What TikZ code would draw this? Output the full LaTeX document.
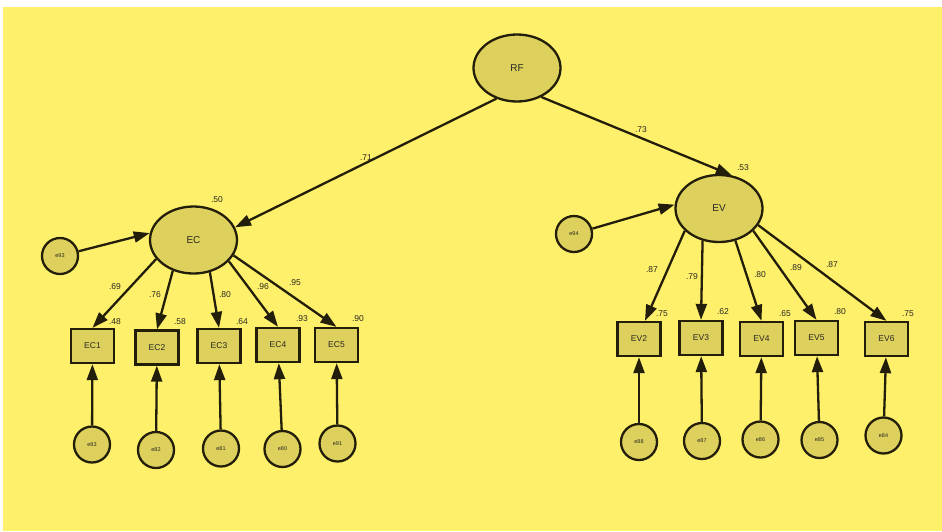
\documentclass[tikz,border=0pt]{standalone}
\usepackage{fontspec}
\setmainfont{Liberation Sans}
\usetikzlibrary{shapes.geometric,arrows.meta}
\definecolor{bgyellow}{RGB}{254,240,106}
\definecolor{nodefill}{RGB}{222,208,92}
\definecolor{edge}{RGB}{34,30,10}
\definecolor{txt}{RGB}{40,40,35}
\tikzset{
  latent/.style={ellipse,draw=edge,fill=nodefill,line width=2.3pt,minimum width=87pt,minimum height=67pt,inner sep=0pt,text=txt,font=\fontsize{10}{11}\selectfont},
  obsbox/.style={rectangle,draw=edge,fill=nodefill,line width=2.3pt,minimum width=43pt,minimum height=34pt,inner sep=0pt,text=txt,font=\fontsize{8.5}{9}\selectfont},
  errc/.style={circle,draw=edge,fill=nodefill,line width=2.3pt,minimum size=36pt,inner sep=0pt,text=txt,font=\fontsize{5.5}{6}\selectfont},
  path/.style={draw=edge,line width=2.3pt,-{Triangle[length=16pt,width=11pt]}},
  num/.style={text=txt,font=\fontsize{8.5}{9}\selectfont,inner sep=0pt}
}
\begin{document}
\begin{tikzpicture}[x=1pt,y=-1pt]
\useasboundingbox (0,0) rectangle (942,531);
\fill[white] (0,0) rectangle (942,531);
\fill[bgyellow] (3,7) rectangle (942,531);

\node[latent] (RF) at (517,68) {RF};
\node[latent] (EC) at (193.5,240) {EC};
\node[latent] (EV) at (719,208.5) {EV};

\node[errc] (e93) at (60,256) {e93};
\node[errc] (e94) at (574,234) {e94};

\node[obsbox] (EC1) at (92.5,346) {EC1};
\node[obsbox] (EC2) at (157,347.5) {EC2};
\node[obsbox] (EC3) at (219,346) {EC3};
\node[obsbox] (EC4) at (278,345) {EC4};
\node[obsbox] (EC5) at (336.5,345) {EC5};

\node[obsbox] (EV2) at (639,339) {EV2};
\node[obsbox] (EV3) at (701,338) {EV3};
\node[obsbox] (EV4) at (761.5,339) {EV4};
\node[obsbox] (EV5) at (816.5,338) {EV5};
\node[obsbox] (EV6) at (886.5,339) {EV6};

\node[errc] (e83) at (92,444.5) {e83};
\node[errc] (e82) at (156,450) {e82};
\node[errc] (e81) at (221,448.5) {e81};
\node[errc] (e80) at (282.5,449) {e80};
\node[errc] (e91) at (337.5,443.5) {e91};

\node[errc] (e88) at (639,442) {e88};
\node[errc] (e87) at (702,441) {e87};
\node[errc] (e86) at (760.5,439.5) {e86};
\node[errc] (e85) at (819.5,440) {e85};
\node[errc] (e84) at (883.5,435.5) {e84};

% structural paths
\draw[path] (RF.236) -- (EC.17);
\draw[path] (RF.310) -- (EV.69);
\draw[path] (e93) -- (EC.171);
\draw[path] (e94) -- (EV.175);

% EC loadings
\draw[path] (EC.207) -- (EC1.north);
\draw[path] (EC.236) -- (EC2.north);
\draw[path] (EC.297) -- (EC3.north);
\draw[path] (EC.329) -- (EC4.north);
\draw[path] (EC.339) -- (EC5.north);

% EV loadings
\draw[path] (EV.213) -- ([xshift=6pt]EV2.north);
\draw[path] (EV.243) -- (EV3.north);
\draw[path] (EV.297) -- (EV4.north);
\draw[path] (EV.327) -- (EV5.north);
\draw[path] (EV.337) -- (EV6.north);

% error to indicators
\draw[path] (e83) -- (EC1);
\draw[path] (e82) -- (EC2);
\draw[path] (e81) -- (EC3);
\draw[path] (e80) -- (EC4);
\draw[path] (e91) -- (EC5);
\draw[path] (e88) -- (EV2);
\draw[path] (e87) -- (EV3);
\draw[path] (e86) -- (EV4);
\draw[path] (e85) -- (EV5);
\draw[path] (e84) -- (EV6);

% labels
\node[num] (l71) at (366,158) {.71};
\node[num] (l73) at (641,130) {.73};
\node[num] (l50) at (217,200) {.50};
\node[num] (l53) at (743,168) {.53};

\node[num] (a1) at (115,287) {.69};
\node[num] (a2) at (155,295) {.76};
\node[num] (a3) at (225,295) {.80};
\node[num] (a4) at (263,287) {.96};
\node[num] (a5) at (295,283) {.95};

\node[num] (r1) at (115,322) {.48};
\node[num] (r2) at (180,322) {.58};
\node[num] (r3) at (242,322) {.64};
\node[num] (r4) at (302,319) {.93};
\node[num] (r5) at (358,319) {.90};

\node[num] (b2) at (652,270) {.87};
\node[num] (b3) at (692,277) {.79};
\node[num] (b4) at (760,275) {.80};
\node[num] (b5) at (796,268) {.89};
\node[num] (b6) at (832,265) {.87};

\node[num] (s2) at (662,314) {.75};
\node[num] (s3) at (723,312) {.62};
\node[num] (s4) at (785,314) {.65};
\node[num] (s5) at (840,312) {.80};
\node[num] (s6) at (908,314) {.75};
\end{tikzpicture}
\end{document}
